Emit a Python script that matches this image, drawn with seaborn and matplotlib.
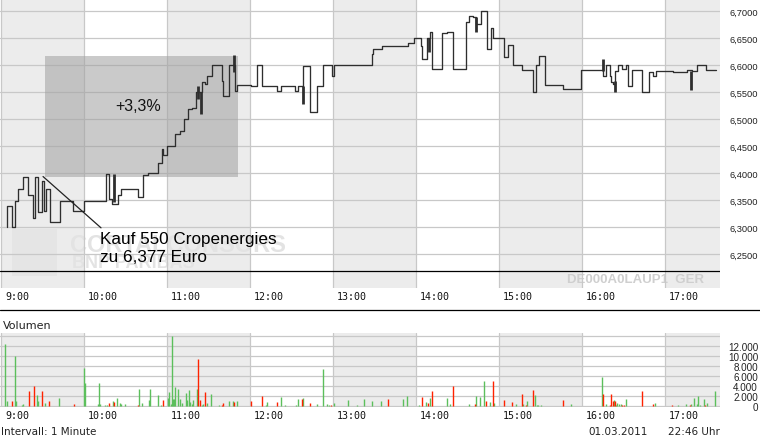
import numpy as np
import pandas as pd
import seaborn as sns
import matplotlib.pyplot as plt
from matplotlib.lines import Line2D
from matplotlib.patches import Rectangle
from matplotlib.transforms import ScaledTranslation

# price in 1 minute steps, minutes after 9:00
price_min = [4.0, 4.3, 8.2, 10.1, 12.5, 15.7, 19.8, 23.4, 24.6, 27.0, 29.4, 31.3, 32.5, 35.4,
             42.7, 52.3, 60.3, 75.9, 78.1, 80.0, 84.8, 86.5, 98.8, 102.4, 106.5, 113.8, 116.2,
             117.4, 119.8, 125.8, 129.4, 132.0, 135.0, 138.0, 141.0, 145.1, 147.5, 148.7, 152.3,
             160.0, 160.7, 165.1, 169.2, 170.9, 180.7, 184.8, 188.9, 199.8, 202.4, 212.5, 214.5,
             218.6, 223.4, 228.7, 233.0, 239.1, 241.0, 268.0, 268.7, 275.2, 294.0, 298.8, 303.6,
             304.6, 307.7, 310.1, 311.8, 318.5, 322.6, 327.0, 336.4, 338.5, 341.0, 343.4, 346.7,
             351.1, 354.0, 355.9, 363.9, 366.7, 369.9, 376.9, 384.8, 386.5, 389.0, 393.2, 406.5,
             419.0, 435.4, 437.3, 440.2, 440.7, 442.1, 444.1, 446.2, 448.6, 451.8, 453.5, 455.9,
             463.6, 468.7, 471.5, 473.2, 485.5, 495.6, 499.3, 503.4, 509.4, 516.6]
price_val = [6.300, 6.340, 6.300, 6.349, 6.371, 6.394, 6.359, 6.318, 6.394, 6.328, 6.385, 6.330, 6.371, 6.309,
             6.349, 6.330, 6.349, 6.399, 6.352, 6.343, 6.359, 6.371, 6.357, 6.397, 6.401, 6.420, 6.445,
             6.433, 6.451, 6.473, 6.479, 6.501, 6.519, 6.521, 6.550, 6.570, 6.565, 6.580, 6.601,
             6.571, 6.543, 6.601, 6.553, 6.564, 6.561, 6.601, 6.561, 6.552, 6.561, 6.552, 6.561,
             6.598, 6.513, 6.561, 6.601, 6.580, 6.601, 6.621, 6.630, 6.635, 6.641, 6.650, 6.636,
             6.612, 6.650, 6.661, 6.594, 6.660, 6.661, 6.594, 6.680, 6.691, 6.689, 6.677, 6.700,
             6.630, 6.670, 6.650, 6.615, 6.638, 6.601, 6.591, 6.550, 6.601, 6.618, 6.564, 6.556,
             6.591, 6.581, 6.601, 6.581, 6.570, 6.565, 6.590, 6.601, 6.593, 6.601, 6.562, 6.591,
             6.550, 6.587, 6.580, 6.589, 6.587, 6.591, 6.590, 6.601, 6.591, 6.591]

# high/low inside one minute
spike_min = [81.7, 142.2, 144.3, 168.4, 218.1, 309.4, 343.1, 434.9, 443.6, 498.8]
spike_lo = [6.347, 6.538, 6.510, 6.587, 6.528, 6.624, 6.662, 6.590, 6.551, 6.555]
spike_hi = [6.399, 6.562, 6.550, 6.619, 6.562, 6.650, 6.689, 6.612, 6.571, 6.590]

# volume per minute, g = up, r = down
vol_min = [3.1, 4.6, 8.2, 10.4, 11.1, 13.3, 15.4, 16.2, 18.3, 20.5, 24.1, 26.3, 27.0, 29.9, 32.1, 34.9,
           42.2, 53.0, 60.3, 61.0, 70.4, 71.1, 71.8, 75.4, 76.9, 78.3, 79.0, 81.2, 81.9, 84.1, 86.3,
           87.0, 89.9, 99.3, 100.0, 102.2, 103.6, 104.4, 107.2, 108.0, 113.8, 115.9, 117.4, 121.0,
           121.7, 123.2, 123.9, 124.6, 125.3, 126.1, 128.2, 129.7, 131.1, 134.0, 134.7, 136.2, 136.9,
           138.3, 139.1, 141.9, 142.7, 144.1, 145.6, 146.3, 147.7, 149.2, 152.1, 157.9, 160.0, 160.8,
           165.1, 168.0, 168.7, 170.9,
           181.0, 184.6, 189.0, 191.8, 192.6, 199.8, 202.7, 205.6, 212.8, 213.5, 215.0, 217.9, 218.6,
           223.7, 228.7, 233.1, 235.9, 237.4, 238.8, 241.0, 251.1, 252.6, 257.6, 259.8, 262.7, 264.1,
           268.5, 275.0, 280.0, 283.0, 290.9, 293.8, 298.8, 302.5, 304.6, 307.5, 309.0, 310.4, 311.9,
           318.4, 322.7, 324.9, 327.0, 336.4, 338.6, 340.8, 342.9, 343.7,
           346.5, 349.4, 350.9, 353.8, 355.9, 356.7, 363.9, 366.8, 369.7, 372.6, 376.9, 377.6, 379.8,
           380.5, 384.9, 386.3, 387.8, 388.5, 390.6, 393.5, 406.6, 412.3, 418.8, 434.7, 435.5, 437.6,
           440.5, 441.3, 442.7, 443.4, 444.1, 444.9, 445.6, 447.0, 448.5, 449.2, 450.7, 452.1, 453.5,
           456.4, 460.8, 463.7, 468.7, 471.6, 473.1, 478.9, 485.4, 489.7, 495.5, 498.4, 499.1, 501.3,
           503.4, 504.2, 505.6, 508.5, 509.2, 510.7, 516.5]
vol_val = [12460, 990, 990, 10000, 990, 120, 250, 450, 120, 3050, 4050, 2250, 1050, 3050, 650, 1050,
           1600, 450, 7660, 4660, 450, 4660, 450, 250, 250, 650, 120, 1050, 850, 1650, 650,
           450, 450, 250, 3450, 650, 120, 120, 1250, 3450, 2250, 250, 1250, 1650,
           2850, 450, 14000, 1450, 1450, 3850, 3450, 1450, 650, 2650, 1250, 3250, 850,
           450, 1250, 3450, 9460, 1250, 250, 450, 2850, 650, 2450, 250, 250, 650,
           1050, 1050, 850, 1050,
           1050, 120, 2050, 250, 850, 850, 1850, 250, 120, 250, 1450, 1450, 1650,
           650, 450, 7460, 450, 250, 250, 650, 1250, 120, 250, 120, 1450, 120,
           1050, 1050, 1450, 120, 1450, 2050, 120, 250, 1850, 850, 650, 1650, 3050,
           120, 1650, 450, 4050, 120, 450, 120, 450, 2050,
           1850, 5050, 1050, 850, 5050, 650, 1250, 120, 850, 450, 2450, 450, 250,
           1050, 3250, 2250, 250, 250, 250, 120, 1250, 450, 120, 5860, 2450, 450,
           250, 2450, 1050, 1250, 1050, 250, 650, 450, 450, 250, 250, 1450, 120,
           120, 120, 3050, 120, 450, 650, 120, 250, 250, 450, 250, 450, 1650,
           450, 2050, 250, 1450, 250, 650, 3050]
vol_col = ['g', 'g', 'r', 'g', 'g', 'g', 'g', 'g', 'g', 'r', 'r', 'g', 'g', 'r', 'g', 'r',
           'g', 'r', 'g', 'g', 'g', 'g', 'g', 'g', 'g', 'r', 'r', 'g', 'r', 'g', 'g',
           'g', 'g', 'r', 'g', 'g', 'g', 'g', 'g', 'g', 'g', 'g', 'r', 'g',
           'g', 'g', 'g', 'g', 'g', 'g', 'g', 'g', 'g', 'g', 'g', 'g', 'g',
           'g', 'g', 'g', 'r', 'r', 'g', 'g', 'r', 'g', 'g', 'g', 'r', 'r',
           'g', 'g', 'r', 'g',
           'r', 'g', 'r', 'g', 'g', 'r', 'g', 'g', 'r', 'g', 'g', 'r', 'g',
           'r', 'g', 'g', 'g', 'g', 'r', 'g', 'g', 'g', 'g', 'g', 'g', 'g',
           'g', 'g', 'r', 'g', 'g', 'g', 'g', 'g', 'r', 'g', 'r', 'g', 'r',
           'g', 'g', 'g', 'r', 'g', 'g', 'r', 'r', 'g',
           'g', 'g', 'r', 'g', 'r', 'g', 'r', 'g', 'r', 'g', 'r', 'g', 'r',
           'g', 'r', 'g', 'g', 'g', 'g', 'r', 'r', 'g', 'g', 'g', 'r', 'g',
           'r', 'r', 'r', 'g', 'r', 'g', 'g', 'g', 'g', 'r', 'r', 'g', 'r',
           'g', 'g', 'r', 'g', 'r', 'g', 'g', 'r', 'g', 'g', 'r', 'g', 'g',
           'g', 'g', 'g', 'g', 'r', 'g', 'g']

hour_labels = ['9:00', '10:00', '11:00', '12:00', '13:00', '14:00', '15:00', '16:00', '17:00']
hour_min = [0, 60, 120, 180, 240, 300, 360, 420, 480]
price_ticks = [6.25, 6.30, 6.35, 6.40, 6.45, 6.50, 6.55, 6.60, 6.65, 6.70]
vol_ticks = [0, 2000, 4000, 6000, 8000, 10000, 12000, 14000]

buy_price = 6.377
box_min = [31.8, 171.1]
box_price = [6.394, 6.618]
gain_text = '+3,3%'
pointer_min = [30.4, 72.3]
pointer_price = [6.394, 6.299]

sns.set_style('white')
plt.rcParams['font.family'] = ['DejaVu Sans']

W, H = 760, 439
fig = plt.figure(figsize=(W / 100, H / 100), dpi=100)
ax = fig.add_axes([0, 1 - 289 / H, 720 / W, 289 / H])
ax2 = fig.add_axes([0, 1 - 408 / H, 720 / W, 74 / H])

xlim = (-0.72, 519.8)
grid_c = '#c8c8c8'
shade_c = '#ececec'

for a in (ax, ax2):
    a.set_xlim(*xlim)
    for h in hour_min[::2]:
        a.axvspan(h, h + 60, color=shade_c, zorder=0.2, lw=0)
    a.set_axisbelow(True)
    a.grid(True, color=grid_c, lw=0.9)
    for s in a.spines.values():
        s.set_visible(False)
    a.set_xticks(hour_min)
    a.set_xticklabels(hour_labels, family='DejaVu Sans Mono', fontsize=7.2, ha='left', color='#111111')
    a.tick_params(axis='x', length=0, pad=2)
    off = ScaledTranslation(4 / 100, 0, fig.dpi_scale_trans)
    for lbl in a.get_xticklabels():
        lbl.set_transform(lbl.get_transform() + off)

# price panel
ax.set_ylim(6.70 - 289 / 540 + 12.3 / 540, 6.70 + 12.3 / 540)
ax.set_yticks(price_ticks)
ax.set_yticklabels([f"{v:.4f}".replace('.', ',') for v in price_ticks],
                   family='Liberation Sans', fontsize=6.7, color='#222222')
ax.yaxis.tick_right()
ax.tick_params(axis='y', length=0, pad=7)
ax.axhline(6.2193, color='black', lw=0.9, zorder=2)

# watermark
ax.add_patch(Rectangle((12 / 720, 1 - 277 / 289), 45 / 720, 47 / 289, transform=ax.transAxes,
                       color='#e5e5e5', zorder=0.3, lw=0))
ax.text(70 / 720, 1 - 246 / 289, 'CORTALCONSORS', transform=ax.transAxes, fontsize=17,
        family='Liberation Sans', weight='bold', color='#e3e3e3', va='center', zorder=0.3)
ax.text(72 / 720, 1 - 264 / 289, 'BNP PARIBAS', transform=ax.transAxes, fontsize=13,
        family='Liberation Sans', weight='bold', color='#e3e3e3', va='center', zorder=0.3)
ax.text(567 / 720, 1 - 280 / 289, 'DE000A0LAUP1  GER', transform=ax.transAxes, fontsize=9.5,
        family='Liberation Sans', weight='bold', color='#cfcfcf', va='center', zorder=0.3)

# gain box
ax.add_patch(Rectangle((box_min[0], box_price[0]), box_min[1] - box_min[0], box_price[1] - box_price[0],
                       facecolor='#a0a0a0', alpha=0.55, lw=0, zorder=1))
ax.text(138 / 720, 1 - 107 / 289, gain_text, transform=ax.transAxes, fontsize=11.5,
        family='Liberation Sans', ha='center', va='center', color='#111111', zorder=4)

df = pd.DataFrame({'t': price_min, 'p': price_val})
sns.lineplot(data=df, x='t', y='p', drawstyle='steps-post', estimator=None, color='#2e2e2e',
             lw=0.95, ax=ax, zorder=3)
ax.vlines(spike_min, spike_lo, spike_hi, color='#2e2e2e', lw=2.0, zorder=3)
ax.set_xlabel('')
ax.set_ylabel('')

ax.plot(pointer_min, pointer_price, color='#222222', lw=0.9, zorder=3)
ax.text(100 / 720, 1 - 240 / 289, 'Kauf 550 Cropenergies', transform=ax.transAxes, fontsize=12.3,
        family='Liberation Sans', va='center', color='black', zorder=4)
ax.text(100 / 720, 1 - 258 / 289, f'zu {buy_price:.3f}'.replace('.', ',') + ' Euro', transform=ax.transAxes,
        fontsize=12.3, family='Liberation Sans', va='center', color='black', zorder=4)

# volume panel
ax2.set_ylim(-140, 14660)
ax2.set_yticks(vol_ticks)
ax2.set_yticklabels([f"{v:,}".replace(',', '.') if v <= 12000 else '' for v in vol_ticks],
                    family='Liberation Sans', fontsize=7.1, color='#222222', ha='right')
ax2.yaxis.tick_right()
ax2.tick_params(axis='y', length=0, pad=27.4)
vol = pd.DataFrame({'t': vol_min, 'v': vol_val, 'c': vol_col})
for key, col in [('g', '#5cbf5c'), ('r', '#ff2200')]:
    sub = vol[vol.c == key]
    ax2.vlines(sub.t, 0, sub.v, color=col, lw=1.0, zorder=2)

fy = lambda y: 1 - y / H
fig.add_artist(Line2D([0, 1], [fy(311), fy(311)], transform=fig.transFigure, color='black', lw=0.9))
fig.text(3 / W, fy(326), 'Volumen', fontsize=8, va='center', color='#222222')
fig.text(1 / W, fy(432), 'Intervall: 1 Minute', fontsize=7.5, va='center', color='#222222')
fig.text(588 / W, fy(432), '01.03.2011', fontsize=7.5, va='center', color='#222222')
fig.text(720 / W, fy(432), '22:46 Uhr', fontsize=7.5, va='center', ha='right', color='#222222')

fig.savefig('out.png', dpi=100, facecolor='white')
